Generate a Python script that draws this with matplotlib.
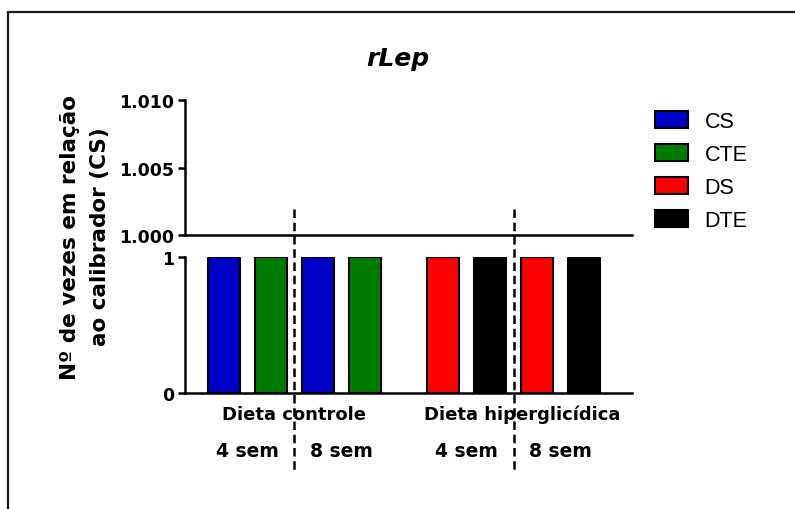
import matplotlib
matplotlib.use("Agg")
import matplotlib.pyplot as plt
from matplotlib.patches import Rectangle
from matplotlib.lines import Line2D
from matplotlib.transforms import blended_transform_factory

# ---- data ----
series = ["CS", "CTE", "DS", "DTE"]
series_colors = ["#0000c8", "#007c00", "#ff0000", "#000000"]
bar_series = ["CS", "CTE", "CS", "CTE", "DS", "DTE", "DS", "DTE"]
bar_values = [1, 1, 1, 1, 1, 1, 1, 1]
diet_labels = ["Dieta controle", "Dieta hiperglicídica"]
week_labels = ["4 sem", "8 sem", "4 sem", "8 sem"]
top_ticks = [1.000, 1.005, 1.010]
top_tick_labels = ["1.000", "1.005", "1.010"]
bottom_ticks = [0, 1]
bottom_tick_labels = ["0", "1"]

plt.rcParams["font.family"] = ["DejaVu Sans"]
plt.rcParams["font.weight"] = "bold"

W, H = 795, 510
fig = plt.figure(figsize=(W / 100, H / 100), dpi=100)

# bar positions: two diet groups of four bars with a wider gap between them
group_gap = 1.68
xpos = [i if i < 4 else i - 1 + group_gap for i in range(len(bar_values))]
color_of = dict(zip(series, series_colors))
bar_colors = [color_of[s] for s in bar_series]

# broken y axis: upper segment 1.000-1.010, lower segment 0-1
ax_top = fig.add_axes([185 / W, 1 - 236 / H, 447 / W, 135 / H])
ax_bot = fig.add_axes([185 / W, 1 - 394 / H, 447 / W, 136 / H])

LW = 1.8
bars = ax_bot.bar(xpos, bar_values, width=0.68, color=bar_colors,
                  edgecolor="black", linewidth=1.5, zorder=2)
handles = {}
for b, s in zip(bars, bar_series):
    handles.setdefault(s, b)

for ax in (ax_top, ax_bot):
    ax.set_xlim(xpos[0] - 0.83, xpos[-1] + 1.02)
    for side in ("top", "right"):
        ax.spines[side].set_visible(False)
    for side in ("left", "bottom"):
        ax.spines[side].set_linewidth(LW)
    ax.set_xticks([])
    ax.tick_params(axis="y", direction="out", length=5, width=LW,
                   labelsize=12.5, pad=3)
    ax.set_facecolor("none")

ax_top.set_ylim(1.000, 1.010)
ax_top.set_yticks(top_ticks)
ax_top.set_yticklabels(top_tick_labels)
ax_bot.set_ylim(0, 1)
ax_bot.set_yticks(bottom_ticks)
ax_bot.set_yticklabels(bottom_tick_labels)
for lab in ax_top.get_yticklabels() + ax_bot.get_yticklabels():
    lab.set_fontweight("bold")

# dashed separators between 4- and 8-week bars of each diet
trans = blended_transform_factory(ax_bot.transData, fig.transFigure)
for g in range(2):
    x_sep = (xpos[4 * g + 1] + xpos[4 * g + 2]) / 2
    fig.add_artist(Line2D([x_sep, x_sep], [1 - 210 / H, 1 - 472 / H],
                          transform=trans, color="black", lw=LW,
                          linestyle=(0, (3.4, 1.9))))

# diet group labels
diet_x = [(xpos[1] + xpos[2]) / 2, (xpos[5] + xpos[6]) / 2 + 0.18]
for x, lab in zip(diet_x, diet_labels):
    fig.text(0, 0, lab, transform=trans, fontsize=13, fontweight="bold",
             ha="center", va="center").set_position((x, 1 - 415 / H))

# week labels
for k, lab in enumerate(week_labels):
    x = (xpos[2 * k] + xpos[2 * k + 1]) / 2
    fig.text(0, 0, lab, transform=trans, fontsize=13.5, fontweight="bold",
             ha="center", va="center").set_position((x, 1 - 452 / H))

# title and y label
fig.text(398 / W, 1 - 59 / H, "rLep", fontsize=18, fontweight="bold",
         fontstyle="italic", ha="center", va="center")
fig.text(85 / W, 1 - 237 / H, "Nº de vezes em relação\nao calibrador (CS)",
         fontsize=15.5, fontweight="bold", rotation=90, ha="center",
         va="center", multialignment="center", linespacing=1.6)

# legend
leg = fig.legend([handles[s] for s in series], series, loc="upper left",
                 bbox_to_anchor=(655 / W, 1 - 112 / H), frameon=False,
                 prop={"family": "Liberation Sans", "weight": "normal",
                       "size": 15.5},
                 handlelength=1.55, handleheight=0.8, handletextpad=0.75,
                 labelspacing=0.56, borderpad=0, borderaxespad=0)

# outer frame
fig.add_artist(Rectangle((8 / W, -0.1), 1.2, 1 - 13 / H + 0.1,
                         transform=fig.transFigure, fill=False,
                         edgecolor="#1a1a1a", linewidth=1.6))

fig.savefig("out.png", dpi=100)
